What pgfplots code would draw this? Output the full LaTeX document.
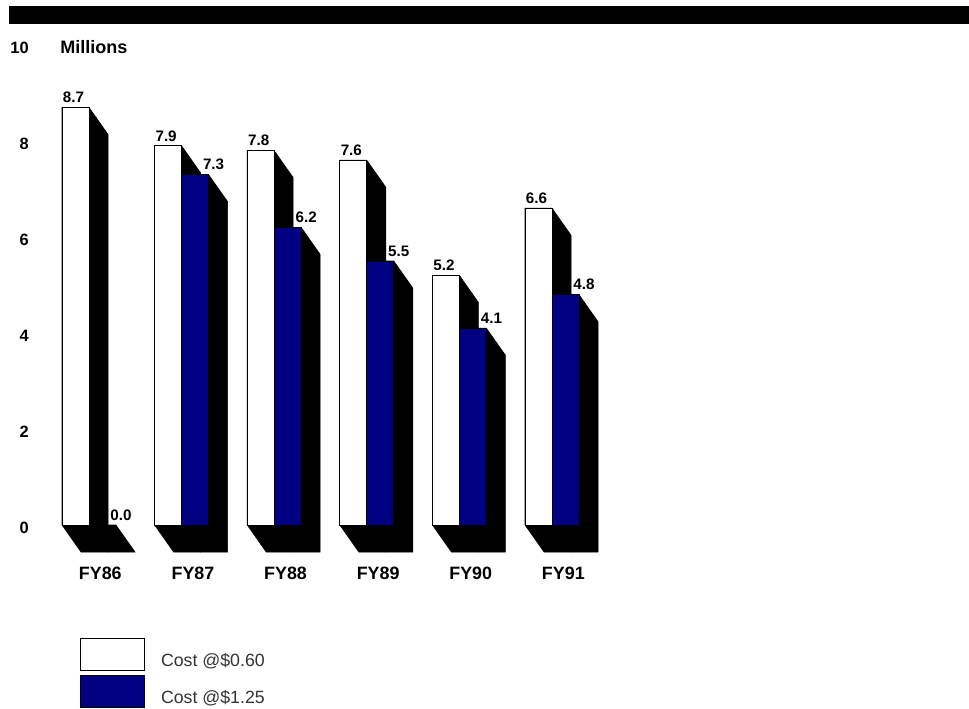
\documentclass[border=0pt]{standalone}
\usepackage{pgfplots}
\pgfplotsset{compat=1.18}
\usepackage{pgfplotstable}
\usepackage{fontspec}
\setmainfont{Liberation Sans}
\definecolor{navyblue}{HTML}{000080}
\definecolor{legtext}{HTML}{333333}
\pgfdeclareplotmark{empty}{}

\pgfplotstableread{
x w b
0 8.7 0.0
1 7.9 7.3
2 7.8 6.2
3 7.6 5.5
4 5.2 4.1
5 6.6 4.8
}\data

% 3D shadow: #1 left edge, #2 right edge (relative to group position)
\pgfplotsset{
  shadow/.style 2 args={
    only marks, mark=empty, scatter, forget plot,
    visualization depends on={rawy \as \h},
    scatter/@pre marker code/.code={%
      \fill[black] (#1,0pt) -- (#2,0pt) -- (#2+14.25pt,-20.25pt)
        -- (#2+14.25pt,-\h*36pt-20.25pt) -- (#1+14.25pt,-\h*36pt-20.25pt)
        -- (#1,-\h*36pt) -- cycle;
    },
    scatter/@post marker code/.code={},
  },
  boxlegend/.style={legend image code/.code={\draw[##1] (0pt,-7.25pt) rectangle (48pt,16.75pt);}},
}

\begin{document}
\begin{tikzpicture}
\path[use as bounding box] (0,0) rectangle (726.75pt,531pt);
\fill[black] (6.75pt,513pt) rectangle (726.75pt,526.5pt);
\begin{axis}[
  at={(66.75pt,137.25pt)}, anchor=origin,
  x=69.45pt, y=36pt,
  xmin=-0.648, xmax=5.832, ymin=-1, ymax=10.6,
  clip=false, clip marker paths=true,
  axis line style={draw=none},
  tick style={draw=none},
  /pgf/number format/assume math mode=true,
  ytick={0,2,4,6,8,10},
  yticklabel style={anchor=east, inner sep=0pt, yshift=-2.25pt, font=\fontsize{12.3}{14}\selectfont\bfseries},
  xtick={0,1,2,3,4,5},
  xticklabels={FY86,FY87,FY88,FY89,FY90,FY91},
  xticklabel style={anchor=center, inner sep=0pt, xshift=8.5pt, font=\fontsize{13.4}{16}\selectfont\bfseries},
  legend style={at={(0.085,-0.1165)}, anchor=north west, draw=none, fill=none,
    inner sep=0pt, outer sep=0pt, row sep=3.2pt,
    font=\fontsize{13.3}{16}\selectfont\color{legtext},
    /tikz/every odd column/.append style={column sep=12pt},
    nodes={inner sep=0pt}},
  legend cell align=left,
]
\addplot[shadow={-20.25pt}{0pt}] table[x=x,y=w] {\data};
\addplot[shadow={0pt}{20.25pt}] table[x=x,y=b] {\data};
\addplot[ybar, bar width=20.25pt, bar shift=-10.125pt, draw=black, line width=0.75pt, fill=white, boxlegend,
  nodes near coords={\pgfmathprintnumber[fixed,fixed zerofill,precision=1]{\pgfplotspointmeta}},
  nodes near coords style={anchor=south, inner sep=0pt, yshift=3pt, xshift=-11.6pt, text=black, font=\fontsize{11.4}{13}\selectfont\bfseries}]
  table[x=x,y=w] {\data};
\addplot[ybar, bar width=20.25pt, bar shift=10.125pt, draw=black, line width=0.75pt, fill=navyblue, boxlegend,
  nodes near coords={\pgfmathprintnumber[fixed,fixed zerofill,precision=1]{\pgfplotspointmeta}},
  nodes near coords style={anchor=south, inner sep=0pt, yshift=3pt, xshift=24pt, text=black, font=\fontsize{11.4}{13}\selectfont\bfseries}]
  table[x=x,y=b] {\data};
\legend{Cost @\$0.60, Cost @\$1.25}
\end{axis}
\node[anchor=west, inner sep=0pt, font=\fontsize{13.5}{16}\selectfont\bfseries] at (45pt,495.75pt) {Millions};
\end{tikzpicture}
\end{document}
